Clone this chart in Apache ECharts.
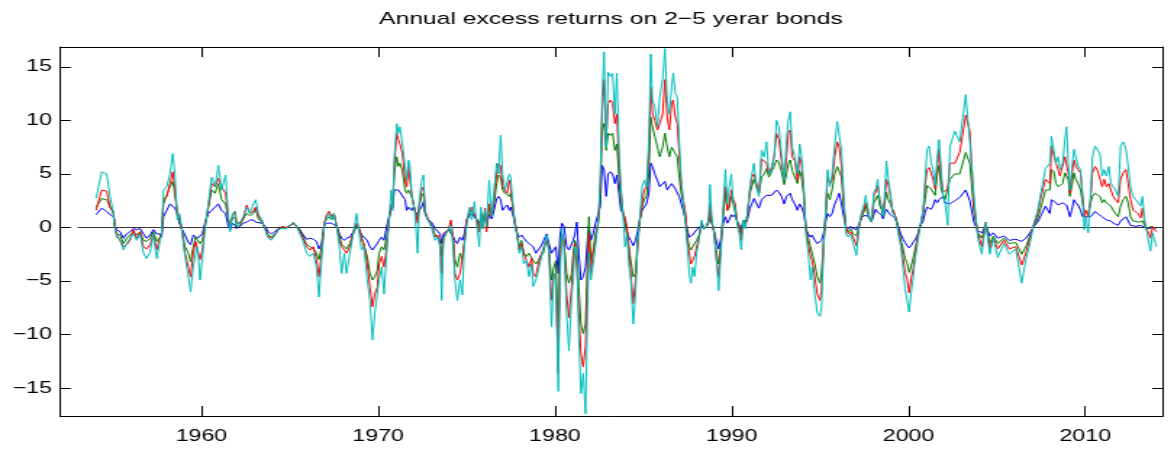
<!DOCTYPE html>
<html>
<head>
<meta charset="utf-8">
<script src="https://cdn.jsdelivr.net/npm/echarts@6/dist/echarts.min.js"></script>
<style>
html,body{margin:0;padding:0;background:#fff;overflow:hidden;}
#wrap{width:1174px;height:453px;overflow:hidden;}
#chart{width:810px;height:453px;transform-origin:0 0;}
</style>
</head>
<body>
<div id="wrap"><div id="chart"></div></div>
<script>
// ---------------- DATA ----------------
var titleText = 'Annual excess returns on 2\u22125 yerar bonds';
var xTicks = [1960, 1970, 1980, 1990, 2000, 2010];
var yTicks = [-15, -10, -5, 0, 5, 10, 15];
var zeroLineX = [1953.0, 2014.4];
var zeroLineY = [0, 0];

var years = [
 1954.04,1954.36,1954.64,1954.83,1955.02,1955.12,1955.21,1955.40,1955.59,1955.77,1955.96,1956.15,1956.34,1956.53,1956.72,1956.90,1957.10,1957.28,1957.47,1957.66,1957.75,1957.85,1958.04,1958.22,1958.38,1958.50,1958.64,1958.75,1958.88,1959.07,
 1959.26,1959.39,1959.54,1959.67,1959.79,1959.92,1960.05,1960.20,1960.39,1960.58,1960.77,1960.96,1961.14,1961.37,1961.52,1961.62,1961.75,1961.90,1961.99,1962.18,1962.37,1962.56,1962.75,1962.94,1963.07,1963.22,1963.41,1963.60,1963.78,1963.97,1964.16,1964.35,1964.54,
 1964.82,1965.20,1965.38,1965.57,1965.76,1965.95,1966.14,1966.33,1966.51,1966.65,1966.80,1966.95,1967.08,1967.23,1967.36,1967.50,1967.65,1967.80,1967.93,1968.08,1968.21,1968.40,1968.59,1968.78,1968.93,1969.06,1969.19,1969.38,1969.53,1969.68,1969.81,1969.95,
 1970.05,1970.20,1970.33,1970.48,1970.61,1970.73,1970.82,1970.91,1971.05,1971.14,1971.23,1971.37,1971.52,1971.61,1971.71,1971.80,1971.89,1971.99,1972.08,1972.23,1972.33,1972.46,1972.57,1972.65,1972.80,1972.93,1973.06,1973.21,1973.36,1973.50,1973.59,1973.69,1973.82,1973.97,1974.12,1974.25,1974.34,1974.48,1974.63,1974.76,1974.87,1975.00,1975.14,1975.29,
 1975.45,1975.57,1975.72,1975.81,1975.91,1976.04,1976.13,1976.28,1976.42,1976.55,1976.70,1976.81,1976.93,1977.04,1977.17,1977.30,1977.42,1977.49,1977.60,1977.74,1977.87,1977.98,1978.11,1978.24,1978.39,1978.53,1978.68,1978.77,1978.92,1979.06,1979.19,1979.34,1979.53,1979.66,1979.81,1979.94,1980.05,1980.19,1980.28,1980.39,1980.51,1980.66,1980.79,
 1980.94,1981.03,1981.13,1981.24,1981.35,1981.47,1981.60,1981.73,1981.84,1981.92,1982.03,1982.16,1982.29,1982.45,1982.56,1982.67,1982.78,1982.90,1983.01,1983.14,1983.26,1983.39,1983.50,1983.62,1983.73,1983.86,1983.96,1984.07,1984.18,1984.29,1984.43,1984.56,1984.67,1984.80,1984.93,1985.05,1985.18,1985.31,1985.42,1985.52,1985.65,1985.80,1985.93,
 1986.09,1986.22,1986.35,1986.47,1986.60,1986.69,1986.81,1986.92,1987.03,1987.15,1987.26,1987.39,1987.49,1987.60,1987.69,1987.79,1987.90,1988.01,1988.15,1988.30,1988.43,1988.58,1988.69,1988.77,1988.88,1989.01,1989.14,1989.26,1989.39,1989.52,1989.64,1989.75,1989.86,1989.98,1990.09,1990.20,1990.32,1990.43,1990.54,1990.65,1990.77,1990.88,1991.03,1991.14,1991.26,
 1991.40,1991.54,1991.69,1991.84,1991.97,1992.10,1992.25,1992.40,1992.53,1992.67,1992.82,1992.97,1993.10,1993.20,1993.31,1993.42,1993.57,1993.72,1993.84,1993.95,1994.08,1994.20,1994.33,1994.46,1994.55,1994.70,1994.84,1994.99,1995.08,1995.19,1995.31,1995.42,1995.55,1995.68,1995.83,1995.97,1996.08,1996.21,1996.34,1996.46,1996.59,1996.72,1996.87,
 1997.06,1997.21,1997.34,1997.47,1997.58,1997.68,1997.81,1997.92,1998.04,1998.15,1998.26,1998.38,1998.47,1998.57,1998.66,1998.75,1998.87,1998.98,1999.09,1999.23,1999.32,1999.45,1999.56,1999.70,1999.81,1999.92,2000.04,2000.15,2000.26,2000.38,2000.49,2000.60,2000.72,2000.83,2000.94,2001.05,2001.17,2001.28,2001.39,2001.51,2001.62,2001.73,2001.85,2001.96,2002.07,2002.22,
 2002.34,2002.62,2002.90,2003.24,2003.47,2003.70,2003.92,2004.15,2004.38,2004.60,2004.80,2005.05,2005.40,2005.70,2006.07,2006.40,2006.64,2006.87,2007.10,2007.30,2007.52,2007.75,2008.00,
 2008.09,2008.23,2008.34,2008.47,2008.57,2008.72,2008.85,2008.94,2009.04,2009.13,2009.24,2009.36,2009.47,2009.60,2009.73,2009.85,2009.94,2010.04,2010.17,2010.30,2010.41,2010.55,2010.68,2010.83,2010.96,2011.07,2011.20,2011.34,2011.45,2011.58,2011.71,2011.87,2012.00,2012.15,2012.30,2012.43,2012.56,2012.71,2012.86,2013.00,2013.13,2013.24,2013.35,2013.47,2013.60,2013.69,2013.81,2013.90,2014.03
];

// 2-year bonds (blue)
var bond2 = [
 1.2,1.8,1.5,1.2,1.0,0.1,-0.2,-0.4,-1.0,-0.6,-0.4,-0.1,-0.2,-0.1,-0.6,-1.0,-0.7,-0.2,-0.6,-0.6,-0.9,1.0,1.6,2.2,2.2,1.8,1.3,0.4,-0.1,-0.7,
 -1.4,-1.6,-0.7,-0.6,-1.0,-0.9,-0.6,0.4,1.3,1.6,1.9,2.2,1.6,1.3,0.1,-0.2,0.4,0.2,-0.1,0.1,0.4,0.5,0.7,0.7,0.5,0.4,0.4,0.1,-0.4,-0.6,-0.4,-0.1,0.0,
 0.0,0.4,0.1,-0.2,-0.7,-1.1,-1.0,-1.1,-1.3,-2.0,-1.5,0.2,0.4,0.5,0.4,0.5,0.1,-0.6,-1.0,-1.2,-1.0,-0.9,-0.4,0.1,-0.2,-0.7,-0.7,-1.2,-1.8,-2.1,-1.8,-1.5,
 -1.2,-0.9,-1.2,0.1,1.0,1.6,1.9,3.5,3.6,3.5,3.3,3.2,2.6,1.6,1.9,1.9,1.6,1.9,1.5,1.2,1.6,1.9,2.4,1.3,0.8,0.7,0.4,-0.1,-0.2,-0.6,-1.5,-0.6,-0.4,-0.4,-0.2,-0.9,-1.2,-1.5,-0.9,-1.2,-0.6,0.7,1.0,1.3,
 1.2,0.7,0.4,0.8,0.2,1.2,0.2,1.2,0.8,1.6,2.7,2.9,2.6,1.6,1.9,2.1,1.6,1.9,1.3,0.4,-0.6,-0.9,-0.7,-1.0,-1.3,-1.5,-1.5,-1.8,-2.4,-2.1,-1.8,-1.7,-0.6,-1.5,-2.4,-2.4,-1.8,-4.3,-0.9,0.4,0.1,-1.8,-2.1,
 -2.1,-1.2,-0.6,0.5,-2.4,-4.9,-4.6,-3.7,-1.2,0.1,-1.2,-0.6,0.4,0.5,1.9,5.8,5.4,2.9,5.0,5.2,5.0,4.1,4.9,3.2,1.6,1.3,0.4,-0.4,-0.9,-1.2,-1.7,-1.2,-0.4,0.7,1.6,1.9,2.2,3.2,6.0,5.7,5.0,4.4,3.8,
 3.8,4.3,3.5,3.8,4.1,4.1,3.6,3.5,2.9,2.2,1.6,0.7,-0.2,-0.9,-1.0,-0.7,-0.6,-0.2,-0.1,0.2,-0.1,0.1,0.2,1.0,0.4,-0.4,-1.3,-2.0,-1.0,0.4,1.0,0.4,0.7,1.2,1.0,1.2,0.5,0.1,-0.2,0.7,0.4,0.7,1.8,2.2,2.7,
 2.6,1.8,2.6,2.7,3.0,2.9,3.0,2.9,3.5,3.3,2.9,2.2,2.9,3.0,3.2,2.6,2.2,1.6,2.2,1.9,1.3,-0.1,-0.6,-0.9,-0.7,-1.2,-1.5,-1.5,-1.2,-0.6,0.5,1.3,1.0,1.3,2.2,2.7,3.2,2.2,1.0,0.1,-0.1,0.1,-0.1,
 -0.2,0.3,0.9,1.1,1.2,1.1,0.8,0.6,1.2,1.7,1.4,1.4,1.2,0.8,1.4,1.7,1.4,1.2,1.1,0.9,0.8,0.0,-0.6,-1.1,-1.4,-1.7,-1.9,-1.7,-1.4,-1.1,-0.8,-0.2,0.3,0.6,1.4,1.9,2.0,1.7,2.0,2.6,2.3,2.6,2.6,2.9,2.3,2.3,
 2.2,2.5,2.8,3.5,2.5,0.5,-0.3,-0.5,0.2,-0.8,-0.5,-1.0,-0.8,-1.2,-1.1,-1.3,-1.0,-0.5,0.1,0.5,1.2,2.0,1.3,
 2.6,2.6,2.3,2.1,2.0,2.3,2.3,2.1,1.6,1.0,1.6,2.6,2.3,2.1,1.6,1.0,0.9,1.0,0.9,1.0,1.2,1.5,1.3,1.2,1.0,1.0,0.7,0.7,0.6,0.4,0.4,0.2,0.6,0.7,1.0,0.6,0.2,0.1,0.1,0.1,0.2,0.1,0.0,0.0,-0.1,0.0,0.0,0.0,-0.1
];

// 3-year bonds (green)
var bond3 = [
 1.9,2.7,2.6,1.9,1.3,-0.1,-0.6,-0.7,-1.5,-1.0,-0.7,-0.4,-0.7,-0.4,-1.2,-1.3,-1.0,-0.4,-1.3,-0.9,-0.5,2.2,3.0,3.8,4.3,3.2,1.3,0.7,-0.1,-1.8,
 -2.4,-3.2,-1.8,-0.9,-0.9,-1.5,-1.2,0.2,1.9,3.5,3.2,4.1,2.6,2.2,0.7,0.1,0.8,1.0,0.1,0.2,0.8,1.3,1.1,1.3,1.8,0.8,0.5,-0.1,-0.7,-0.9,-0.6,-0.2,0.0,
 0.0,0.4,0.1,-0.2,-0.9,-1.6,-1.8,-2.0,-2.4,-3.0,-1.8,0.4,0.8,1.0,0.7,1.2,0.1,-0.7,-1.6,-1.8,-2.0,-1.5,-0.6,0.2,-0.2,-0.9,-1.0,-2.7,-4.3,-4.9,-4.6,-4.0,
 -2.4,-1.8,-2.1,-0.9,0.7,1.9,2.2,5.0,6.6,5.7,6.0,5.3,3.5,3.2,3.5,3.2,2.9,2.2,1.6,0.7,2.1,2.9,3.2,1.5,0.8,0.5,0.1,-0.7,-0.6,-1.2,-2.7,-0.9,-0.6,-0.2,-0.1,-0.9,-3.0,-3.7,-2.4,-3.0,-1.5,0.5,1.3,1.6,
 1.5,0.8,-0.1,1.3,0.1,1.6,-0.1,1.9,1.0,2.2,4.1,4.9,4.7,3.5,3.2,3.2,2.9,3.2,2.2,0.4,-0.7,-1.8,-1.2,-2.4,-2.7,-2.4,-2.3,-3.1,-3.4,-3.1,-2.6,-2.4,-0.9,-2.0,-4.9,-3.7,-3.1,-10.5,-2.1,-0.6,-1.2,-4.3,-5.2,
 -4.3,-2.4,-1.2,-1.8,-5.5,-9.0,-9.9,-9.0,-3.4,1.0,-3.1,-2.1,-0.6,0.4,2.9,9.1,9.7,7.2,8.8,8.6,8.8,7.2,7.8,4.7,2.2,1.3,0.7,-0.6,-1.8,-3.1,-4.6,-4.3,-1.2,0.7,1.9,2.6,2.9,5.0,10.3,9.4,8.5,7.5,6.6,
 7.5,8.8,7.5,6.6,7.5,7.5,6.9,6.6,4.7,3.1,2.2,1.0,-0.9,-1.8,-2.1,-1.8,-1.8,-1.2,-0.7,0.5,-0.1,0.1,0.4,1.6,0.4,-0.4,-2.4,-3.4,-1.5,1.3,3.2,1.6,1.9,2.9,2.2,2.1,0.5,0.2,-0.6,0.7,0.2,1.2,3.2,3.8,4.5,
 3.8,3.2,4.7,5.0,5.5,4.7,5.2,5.7,6.3,6.1,5.2,4.0,5.0,6.0,6.3,5.3,4.7,4.1,5.3,4.7,2.9,-0.1,-1.0,-1.8,-2.4,-3.4,-4.6,-5.2,-4.3,-1.5,1.0,3.2,2.6,3.5,5.0,5.7,5.7,4.7,1.9,-0.1,-0.4,-0.1,-0.6,
 -0.8,0.2,0.9,1.4,2.0,1.4,0.8,0.5,2.3,2.3,3.0,2.0,1.7,1.1,2.2,3.3,2.6,2.2,1.7,1.1,0.8,-0.3,-1.1,-2.0,-2.9,-3.3,-4.2,-3.6,-2.9,-2.0,-1.1,-0.3,0.6,1.4,2.6,3.9,4.0,3.6,3.3,3.0,4.8,5.8,3.6,3.0,2.6,2.6,
 4.5,5.0,5.0,7.0,6.0,1.5,-0.5,-1.0,0.3,-1.5,-0.8,-1.5,-1.0,-1.5,-1.4,-2.5,-1.8,-0.8,0.2,0.8,2.0,3.5,3.5,
 5.4,5.2,4.1,3.8,3.8,4.1,5.1,4.8,4.5,2.9,3.8,5.1,4.5,4.1,3.5,2.3,1.6,1.5,1.3,2.3,2.9,3.2,3.1,2.9,2.3,2.6,2.3,2.3,2.0,1.6,1.3,1.0,2.0,2.6,2.9,2.3,1.0,0.6,0.6,0.5,0.4,0.6,0.2,-0.2,-0.1,0.1,0.2,0.0,0.0
];

// 4-year bonds (red)
var bond4 = [
 1.6,3.5,3.4,1.9,1.5,-0.1,-0.7,-1.2,-1.8,-1.6,-1.2,-0.2,-1.0,-0.4,-1.8,-2.0,-1.6,-0.6,-2.1,-0.9,-0.5,2.6,2.9,4.1,5.2,3.5,1.0,1.2,-0.1,-2.4,
 -3.7,-4.6,-2.4,-1.3,-2.1,-3.0,-2.1,0.1,1.9,4.1,3.8,4.6,3.8,3.2,0.8,0.4,1.0,1.5,0.5,0.4,0.8,2.1,1.3,1.5,1.9,1.0,0.7,-0.1,-0.9,-1.0,-0.7,-0.2,0.1,
 0.0,0.4,0.1,-0.4,-1.0,-1.8,-2.1,-1.8,-3.0,-4.6,-2.4,0.4,1.2,1.5,1.0,1.3,0.2,-1.2,-1.8,-2.1,-2.4,-1.8,-0.4,0.4,-0.1,-1.2,-1.5,-3.4,-5.5,-7.4,-6.2,-5.6,
 -3.4,-2.7,-3.7,-1.8,0.7,2.2,1.9,5.7,8.8,8.2,7.8,6.9,4.4,3.8,5.7,4.4,3.2,2.2,1.6,0.4,2.2,3.5,3.8,1.6,0.8,0.4,-0.1,-0.9,-0.7,-1.5,-4.3,-0.9,-0.4,-0.2,0.7,-1.2,-4.3,-4.9,-4.3,-4.3,-1.5,0.7,1.3,1.9,
 1.9,0.7,-0.4,1.3,-0.1,1.8,-0.4,2.2,1.0,2.9,5.0,6.0,5.7,3.8,3.5,3.2,4.4,3.8,1.9,0.2,-0.7,-2.1,-1.5,-2.4,-3.1,-3.7,-2.9,-4.3,-4.6,-3.4,-2.7,-2.7,-1.0,-2.1,-6.8,-4.3,-4.9,-13.6,-3.4,-0.6,-1.2,-6.2,-8.4,
 -5.5,-3.4,-1.5,-3.7,-8.0,-11.8,-13.0,-11.1,-4.9,-0.6,-4.3,-2.4,-1.2,0.7,3.8,10.6,13.8,8.2,11.6,11.9,11.6,9.7,10.6,6.0,3.5,1.2,1.0,0.1,-1.8,-4.3,-7.1,-4.9,-2.1,0.7,2.2,3.5,3.8,6.9,13.1,10.6,10.0,9.1,9.7,
 10.6,13.8,10.3,9.1,11.6,11.9,10.3,9.7,6.9,3.8,2.6,1.3,-1.2,-2.4,-3.4,-3.1,-2.7,-1.8,-0.9,0.4,-0.1,0.1,0.5,2.2,0.4,-0.6,-3.1,-4.6,-1.8,1.3,3.8,1.6,2.2,3.5,2.6,2.2,0.4,0.1,-1.2,0.5,0.1,1.0,3.5,4.7,5.0,
 4.1,3.2,6.4,6.2,6.0,5.0,5.6,6.6,8.8,8.2,6.2,4.4,6.6,8.8,9.1,6.6,6.2,4.4,6.6,6.0,3.2,-0.2,-1.5,-2.7,-3.1,-4.6,-6.2,-6.8,-5.9,-1.8,1.3,4.7,4.1,4.4,6.6,8.0,7.5,5.7,2.2,0.1,-0.6,-0.4,-0.9,
 -1.7,0.0,1.1,1.7,2.3,1.7,0.8,0.5,3.0,3.3,3.9,2.6,2.0,1.4,2.6,4.5,3.9,3.0,1.7,1.2,0.6,-0.5,-1.4,-2.9,-4.2,-4.8,-6.1,-4.8,-3.9,-2.6,-1.1,-0.3,0.5,1.4,3.9,5.4,5.6,5.1,4.5,3.6,5.4,7.3,4.5,3.3,3.3,3.6,
 6.0,6.0,7.0,10.5,9.0,2.0,-0.5,-1.8,0.5,-2.0,-1.0,-2.0,-1.2,-2.0,-1.8,-3.5,-2.4,-1.0,0.3,1.2,3.0,4.5,4.1,
 7.6,7.7,6.0,5.4,4.8,5.7,6.6,6.6,5.1,3.2,4.8,6.3,5.7,5.4,5.1,2.9,1.0,1.6,1.0,2.6,5.1,5.7,5.4,5.4,3.8,4.5,3.8,4.1,3.5,2.9,2.6,2.3,4.5,5.1,5.4,4.1,2.6,1.6,1.5,1.3,0.9,1.8,0.6,-0.2,-0.5,-1.0,0.1,-0.2,-0.4
];

// 5-year bonds (cyan)
var bond5 = [
 2.7,5.2,5.0,2.9,1.3,-0.2,-0.9,-1.2,-2.1,-1.5,-1.0,-0.6,-1.2,-0.6,-2.4,-2.9,-2.3,-0.6,-2.9,-1.2,-0.6,3.5,3.8,5.0,6.9,5.0,0.7,1.3,-0.1,-2.7,
 -4.6,-6.0,-3.7,-2.4,-1.8,-4.9,-3.0,-0.2,2.2,4.7,3.8,5.8,3.5,4.9,1.0,-0.4,1.3,1.5,0.2,0.5,1.0,1.9,1.3,2.2,2.6,1.3,0.7,-0.2,-1.0,-1.2,-0.7,-0.2,-0.1,
 -0.1,0.5,0.1,-0.6,-1.3,-2.4,-2.7,-2.4,-3.7,-6.5,-3.0,0.1,1.0,1.3,0.7,1.3,0.1,-1.8,-4.3,-2.4,-4.3,-2.4,-0.6,1.3,-0.6,-2.1,-1.8,-4.9,-6.8,-10.5,-8.0,-8.0,
 -4.9,-3.7,-6.2,-2.4,0.7,3.5,1.6,6.6,9.7,8.8,9.4,7.8,5.7,4.4,6.3,5.7,3.2,2.2,1.3,-2.4,2.6,4.4,4.9,1.3,0.7,0.4,-0.2,-1.2,-0.9,-1.8,-6.8,-1.2,-0.6,-0.2,0.2,-2.1,-4.9,-6.8,-4.9,-6.3,-1.8,0.1,1.9,0.7,
 2.4,0.4,-1.8,1.9,-0.1,1.6,0.1,4.4,1.0,3.5,6.0,5.0,8.6,5.0,3.5,3.5,5.0,4.7,2.6,0.1,-0.9,-2.4,-1.8,-3.4,-3.1,-4.6,-3.4,-5.5,-4.9,-4.0,-3.1,-3.1,-0.7,-2.4,-9.3,-4.3,-4.9,-15.3,-4.9,-0.1,-1.8,-8.0,-11.5,
 -6.5,-4.9,-1.8,-2.4,-10.2,-15.5,-13.6,-17.4,-8.0,-2.4,-4.9,-3.4,-1.8,0.7,4.4,12.2,16.4,7.5,14.5,14.1,14.4,10.6,14.4,7.5,3.8,1.0,-1.8,-0.6,-3.4,-4.9,-9.0,-6.2,-1.8,1.0,3.8,4.4,3.8,8.2,16.2,11.9,11.3,9.4,12.2,
 13.8,16.7,11.9,10.6,13.1,14.4,12.5,12.2,8.2,4.4,2.6,0.1,-1.8,-4.3,-5.2,-3.7,-4.6,-2.4,-1.2,0.7,-0.2,0.1,0.7,4.0,0.7,-0.6,-3.1,-5.9,-2.4,2.2,5.4,2.2,3.8,5.0,2.2,1.9,0.1,-0.6,-2.1,0.7,-0.1,1.3,3.8,5.0,6.0,
 3.8,2.9,7.2,6.6,8.0,5.0,5.3,6.6,10.0,9.4,6.9,4.4,8.2,10.0,10.8,7.5,6.6,5.0,7.8,6.6,3.8,-0.6,-2.4,-4.9,-3.7,-6.2,-8.0,-8.3,-7.4,-2.4,1.6,5.4,3.8,5.0,7.8,9.9,9.8,7.2,2.9,-0.6,-0.9,-0.6,-1.5,
 -2.6,0.2,1.4,2.0,3.0,2.0,0.8,0.5,3.3,3.6,4.5,2.3,2.0,1.1,3.3,6.2,4.5,3.0,1.4,1.1,0.5,-0.8,-1.7,-3.9,-5.8,-6.7,-7.9,-6.1,-4.8,-2.9,-1.7,-0.5,0.5,1.7,4.5,7.3,7.6,6.1,5.4,3.9,6.4,8.2,5.4,3.0,2.3,0.2,
 7.5,9.0,8.0,12.4,8.0,3.0,-1.0,-2.5,0.5,-2.5,-1.0,-2.8,-1.5,-2.5,-2.0,-5.2,-3.0,-1.5,0.5,1.5,3.5,5.5,6.0,
 8.5,8.5,6.0,6.6,5.4,6.0,8.2,9.4,6.0,3.5,5.4,7.3,6.6,5.7,5.4,2.9,-0.2,1.0,-0.5,2.9,6.6,7.6,7.6,6.9,4.8,5.4,4.8,5.7,4.1,4.1,3.5,2.9,7.6,8.0,7.3,5.7,3.8,2.9,2.6,2.3,2.0,2.9,0.7,-0.2,-1.5,-2.2,-0.5,-1.1,-1.8
];

// ---------------- CHART ----------------
// The reference figure is drawn at 810px wide and stretched horizontally to 1174px.
var STRETCH = 1174 / 810;
document.getElementById('chart').style.transform = 'scaleX(' + STRETCH + ')';

function pairs(xs, ys) { return xs.map(function (x, i) { return [x, ys[i]]; }); }
function minusFmt(v) { return String(v).replace('-', '\u2212'); }
function plainFmt(v) { return String(v); }

var FONT = '"Liberation Sans", Arial, Helvetica, sans-serif';
var X_MIN = 1952, X_MAX = 2014.4, Y_MIN = -17.6, Y_MAX = 16.85;

function ticks(vals, len) {
  return { show: true, inside: true, length: len, customValues: vals, lineStyle: { color: '#000', width: 1 } };
}
var lineAx = { show: true, onZero: false, lineStyle: { color: '#000', width: 1 } };

var chart = echarts.init(document.getElementById('chart'), null, { renderer: 'canvas' });
chart.setOption({
  animation: false,
  backgroundColor: '#fff',
  title: {
    text: titleText,
    left: 611 / STRETCH, top: 11, textAlign: 'center', padding: 0,
    textStyle: { fontFamily: FONT, fontSize: 17, fontWeight: 'normal', color: '#000' }
  },
  grid: { left: 60 / STRETCH, right: 11 / STRETCH, top: 47, bottom: 37, containLabel: false },
  xAxis: [
    { type: 'value', position: 'bottom', min: X_MIN, max: X_MAX,
      axisLine: lineAx, axisTick: ticks(xTicks, 10),
      axisLabel: { customValues: xTicks, margin: 13, fontFamily: FONT, fontSize: 16, color: '#000', formatter: plainFmt },
      splitLine: { show: false } },
    { type: 'value', position: 'top', min: X_MIN, max: X_MAX,
      axisLine: lineAx, axisTick: ticks(xTicks, 10),
      axisLabel: { show: false }, splitLine: { show: false } }
  ],
  yAxis: [
    { type: 'value', position: 'left', min: Y_MIN, max: Y_MAX,
      axisLine: lineAx, axisTick: ticks(yTicks, 7.4),
      axisLabel: { customValues: yTicks, margin: 5.5, fontFamily: FONT, fontSize: 16, color: '#000', formatter: minusFmt },
      splitLine: { show: false } },
    { type: 'value', position: 'right', min: Y_MIN, max: Y_MAX,
      axisLine: lineAx, axisTick: ticks(yTicks, 7.4),
      axisLabel: { show: false }, splitLine: { show: false } }
  ],
  series: [
    { name: 'zero', type: 'line', data: pairs(zeroLineX, zeroLineY), symbol: 'none', silent: true,
      lineStyle: { color: '#333', width: 1.2 } },
    { name: '2 year', type: 'line', data: pairs(years, bond2), symbol: 'none', lineStyle: { color: '#0000ff', width: 1 } },
    { name: '3 year', type: 'line', data: pairs(years, bond3), symbol: 'none', lineStyle: { color: '#008000', width: 1 } },
    { name: '4 year', type: 'line', data: pairs(years, bond4), symbol: 'none', lineStyle: { color: '#ff0000', width: 1 } },
    { name: '5 year', type: 'line', data: pairs(years, bond5), symbol: 'none', lineStyle: { color: '#00bfbf', width: 1 } }
  ]
});
</script>
</body>
</html>
